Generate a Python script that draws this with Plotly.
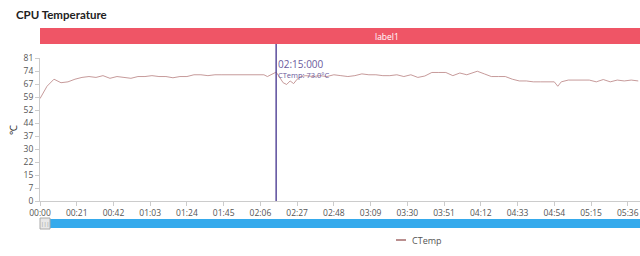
import plotly.graph_objects as go

# time in seconds, temperature in °C
times = [0, 4, 8, 12, 16, 20, 24, 28, 32, 36, 40, 44, 48, 52, 56, 60, 64, 68, 72, 76,
         80, 84, 88, 92, 96, 100, 104, 108, 112, 116, 120, 124, 128, 130, 133, 135, 137, 139,
         141, 143, 145, 147, 149, 152, 156, 160, 164, 168, 172, 176, 180, 184, 188, 192, 196,
         200, 204, 208, 212, 216, 220, 224, 228, 232, 236, 240, 244, 248, 250, 254, 258, 262,
         266, 270, 274, 278, 282, 286, 290, 294, 296, 298, 302, 306, 310, 314, 318, 322, 326,
         330, 334, 338, 342]
ctemp = [58, 65, 69, 67, 67.5, 69, 70, 70.5, 70, 71, 69.5, 70.5, 70, 69.5, 70.5, 70.5, 71, 70.5, 70.5, 69.8,
         70.5, 70.5, 71.5, 71.5, 71, 71.5, 71.5, 71.5, 71.5, 71.5, 71.5, 71.5, 71.5, 70.5, 72, 73, 70, 67,
         66, 68, 66.5, 69, 70.5, 71, 70.5, 71, 70.5, 71.5, 71, 70.5, 71, 72, 71.5, 71.5, 71,
         71, 71.5, 70.5, 71.5, 70, 70.8, 72.8, 72.8, 72.8, 71, 72.5, 71.5, 73, 73.5, 72, 70.5, 70.5,
         70.5, 69, 68, 68, 67.5, 67.5, 67.5, 67.5, 65, 67.5, 68.5, 68.5, 68.5, 68.5, 67.5, 68.8, 67.5,
         68.5, 68, 68.5, 68]

x_tick_vals = [0, 21, 42, 63, 84, 105, 126, 147, 168, 189, 210, 231, 252, 273, 294, 315, 336]
x_tick_text = ["00:00", "00:21", "00:42", "01:03", "01:24", "01:45", "02:06", "02:27", "02:48",
               "03:09", "03:30", "03:51", "04:12", "04:33", "04:54", "05:15", "05:36"]
y_tick_vals = [81 * i / 11 for i in range(12)]
y_tick_text = ["0", "7", "15", "22", "30", "37", "44", "52", "59", "67", "74", "81"]

cursor_t = 135
cursor_label = "02:15:000"
cursor_value = "CTemp: 73.0°C"
band_label = "label1"

FONT = "Open Sans"
H = 143.0  # plot height in px


def py(ypx):
    return (201 - ypx) / H


def px(xpx):
    return (xpx - 40) / 600.0


fig = go.Figure()
fig.add_trace(go.Scatter(x=times, y=ctemp, mode="lines", name="CTemp",
                         line=dict(color="#bf8e8e", width=0.9)))

fig.update_layout(
    width=640, height=256,
    margin=dict(l=40, r=0, t=58, b=55),
    paper_bgcolor="white", plot_bgcolor="white",
    font=dict(family=FONT, size=9, color="#555"),
    showlegend=False,
    xaxis=dict(range=[0, 343], tickvals=x_tick_vals, ticktext=x_tick_text,
               showgrid=False, zeroline=False, showline=True, linecolor="#ccc",
               ticks="outside", ticklen=4, tickcolor="#ccc",
               tickfont=dict(size=8.5, color="#555")),
    yaxis=dict(range=[0, 81], tickvals=y_tick_vals, ticktext=y_tick_text,
               showgrid=False, zeroline=False, showline=True, linecolor="#ccc",
               ticks="outside", ticklen=4, tickcolor="#ccc",
               tickfont=dict(size=8.5, color="#555"),
               title=dict(text="℃", font=dict(size=10, color="#333"), standoff=4)),
)

# title
fig.add_annotation(text="<b>CPU Temperature</b>", xref="paper", yref="paper",
                   x=px(14), y=py(14), xanchor="left", yanchor="middle",
                   showarrow=False, font=dict(size=11.5, color="#222", family="Lato"))

# red band
fig.add_shape(type="rect", xref="paper", yref="paper", x0=0, x1=1,
              y0=py(44), y1=py(28), fillcolor="#ef5566", line=dict(width=0),
              layer="below")
fig.add_annotation(text=band_label, xref="paper", yref="paper",
                   x=px(387), y=py(36), xanchor="center", yanchor="middle", showarrow=False,
                   font=dict(size=8.5, color="white"))

# cursor line
fig.add_shape(type="line", xref="x", yref="paper", x0=cursor_t, x1=cursor_t,
              y0=0, y1=py(44), line=dict(color="#5b4c9c", width=1.5))
fig.add_annotation(text=cursor_label, xref="x", yref="paper", x=cursor_t, y=py(64),
                   xanchor="left", yanchor="middle", xshift=0, showarrow=False,
                   font=dict(size=10, color="#6a5a9c"))
fig.add_annotation(text=cursor_value, xref="x", yref="paper", x=cursor_t, y=py(75),
                   xanchor="left", yanchor="middle", xshift=0, showarrow=False,
                   font=dict(size=7.5, color="#6a5a9c"))

# slider
fig.add_shape(type="rect", xref="paper", yref="paper", x0=0, x1=1,
              y0=py(228), y1=py(219), fillcolor="#35aaec", line=dict(width=0))
fig.add_shape(type="rect", xref="paper", yref="paper", x0=0, x1=px(50),
              y0=py(229), y1=py(218), fillcolor="#e8e8e8",
              line=dict(color="#aaa", width=1))
fig.add_annotation(text="|||", xref="paper", yref="paper", x=px(45), y=py(223.5),
                   xanchor="center", yanchor="middle",
                   showarrow=False, font=dict(size=5, color="#888"))

# legend (manual)
fig.add_shape(type="line", xref="paper", yref="paper", x0=px(396), x1=px(406),
              y0=py(240), y1=py(240), line=dict(color="#a36a6a", width=1.5))
fig.add_annotation(text="CTemp", xref="paper", yref="paper", x=px(410),
                   y=py(240), xanchor="left", yanchor="middle", showarrow=False,
                   font=dict(size=9, color="#555"))

fig.write_html("out.html")
